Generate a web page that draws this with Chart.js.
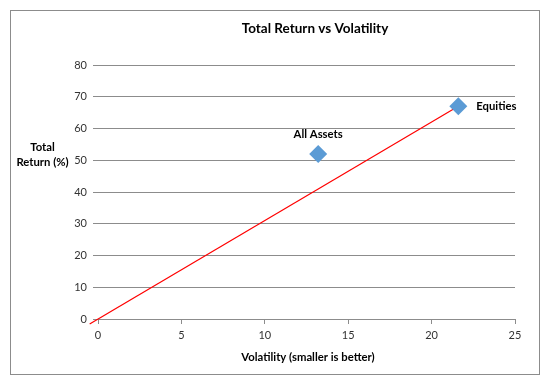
<!DOCTYPE html>
<html>
<head>
<meta charset="utf-8">
<script src="https://cdn.jsdelivr.net/npm/chart.js@4/dist/chart.umd.min.js"></script>
<style>
html,body{margin:0;padding:0;background:#fff;}
#wrap{width:550px;height:383px;position:relative;}
</style>
</head>
<body>
<div id="wrap"><canvas id="c" width="550" height="383"></canvas></div>
<script>
const chartTitle = "Total Return vs Volatility";
const xTitle = "Volatility (smaller is better)";
const yTitle = ["Total", "Return (%)"];
const assetNames = ["All Assets", "Equities"];
const volatility = [13.2, 21.6];
const totalReturn = [52, 67];
const trendX = [-0.5, 21.6];
const trendY = [-1.6, 67];
const xTicks = [0, 5, 10, 15, 20, 25];
const yTicks = [0, 10, 20, 30, 40, 50, 60, 70, 80];

const FONT = "Lato, 'Open Sans', sans-serif";

const decor = {
  id: 'decor',
  beforeDraw(chart) {
    const ctx = chart.ctx;
    ctx.save();
    ctx.fillStyle = '#fff';
    ctx.fillRect(0, 0, 550, 383);
    ctx.strokeStyle = '#8c8c8c';
    ctx.lineWidth = 1;
    ctx.strokeRect(10.5, 10.5, 529, 364);
    ctx.restore();
  },
  afterDraw(chart) {
    const ctx = chart.ctx;
    const area = chart.chartArea;
    ctx.save();
    ctx.fillStyle = '#000';
    ctx.textAlign = 'center';
    ctx.textBaseline = 'middle';
    ctx.font = "bold 13.5px " + FONT;
    ctx.fillText(chartTitle, 315, 29);
    ctx.font = "bold 11.3px " + FONT;
    ctx.fillText(xTitle, 308, 357);
    ctx.fillText(yTitle[0], 42.5, 147);
    ctx.fillText(yTitle[1], 42.5, 162);
    // point labels
    const meta = chart.getDatasetMeta(0);
    meta.data.forEach((pt, i) => {
      if (i === 0) {
        ctx.textAlign = 'center';
        ctx.textBaseline = 'middle';
        ctx.fillText(assetNames[i], pt.x, pt.y - 20);
      } else {
        ctx.textAlign = 'left';
        ctx.textBaseline = 'middle';
        ctx.fillText(assetNames[i], pt.x + 18, pt.y);
      }
    });
    ctx.restore();
  }
};

new Chart(document.getElementById('c'), {
  type: 'scatter',
  data: {
    datasets: [
      {
        label: 'Assets',
        data: volatility.map((v, i) => ({x: v, y: totalReturn[i]})),
        pointStyle: 'rectRot',
        pointRadius: 9,
        pointHoverRadius: 9,
        backgroundColor: '#5b9bd5',
        borderColor: '#5b9bd5',
        borderWidth: 0,
        order: 0
      },
      {
        label: 'Trend',
        type: 'line',
        data: trendX.map((v, i) => ({x: v, y: trendY[i]})),
        borderColor: '#ff0000',
        borderWidth: 1.2,
        pointRadius: 0,
        fill: false,
        clip: false,
        order: 1
      }
    ]
  },
  options: {
    responsive: false,
    animation: false,
    devicePixelRatio: 1,
    layout: { padding: { left: 0, top: 65, right: 35, bottom: 0 } },
    plugins: {
      legend: { display: false },
      title: { display: false },
      tooltip: { enabled: false }
    },
    scales: {
      x: {
        type: 'linear',
        min: 0, max: 25,
        afterBuildTicks: s => { s.ticks = xTicks.map(v => ({value: v})); },
        afterFit: s => { s.height = 64; },
        grid: { drawOnChartArea: false, drawTicks: true, tickLength: 5, color: '#8c8c8c' },
        border: { display: true, color: '#8c8c8c' },
        ticks: { color: '#333', font: { family: FONT, size: 11 }, padding: 5, maxRotation: 0 }
      },
      y: {
        type: 'linear',
        min: 0, max: 80,
        afterBuildTicks: s => { s.ticks = yTicks.map(v => ({value: v})); },
        afterFit: s => { s.width = 98; },
        grid: { drawOnChartArea: true, drawTicks: true, tickLength: 5, color: '#8c8c8c' },
        border: { display: false },
        ticks: { color: '#333', font: { family: FONT, size: 11 }, padding: 6 }
      }
    }
  },
  plugins: [decor]
});
</script>
</body>
</html>
